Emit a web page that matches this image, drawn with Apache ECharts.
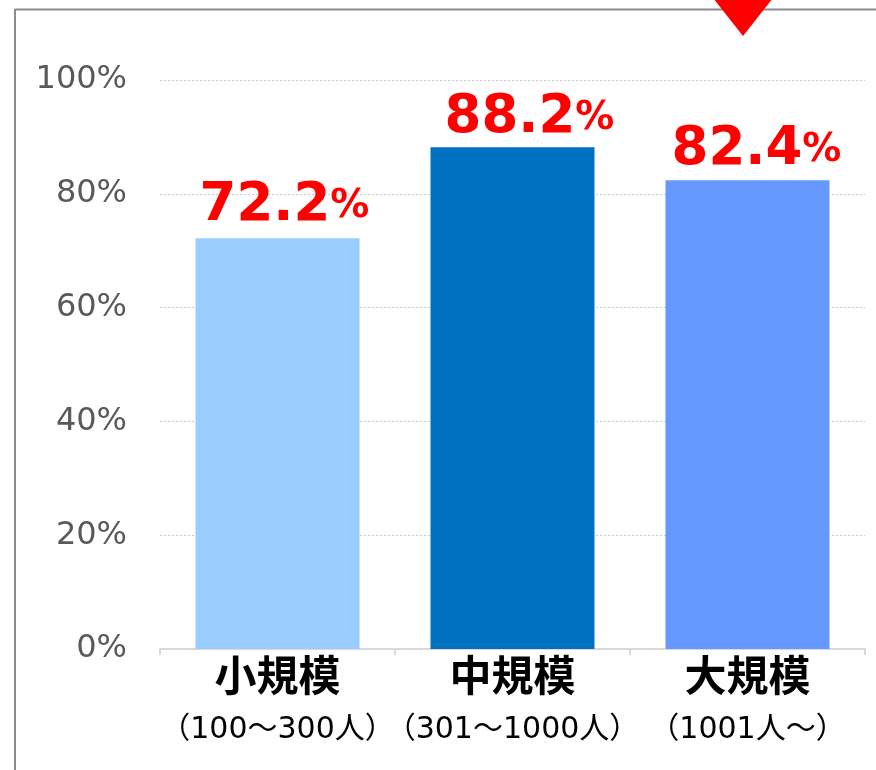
<!DOCTYPE html>
<html><head><meta charset="utf-8">
<script src="https://cdn.jsdelivr.net/npm/echarts@6/dist/echarts.min.js"></script>
<style>html,body{margin:0;padding:0;background:#fff}#c{width:876px;height:770px}</style>
</head><body><div id="c"></div>
<script>
var categories = ['小規模', '中規模', '大規模'];
var subLabels = ['（100～300人）', '（301～1000人）', '（1001人～）'];
var values = [72.2, 88.2, 82.4];
var barColors = ['#99CCFF', '#0070C0', '#6699FF'];
var labelOffsets = [[7, -3], [17, 0], [9, -1]];

var chart = echarts.init(document.getElementById('c'), null, {renderer: 'canvas'});
chart.setOption({
  animation: false,
  backgroundColor: '#fff',
  graphic: [
    {type: 'line', shape: {x1: 15, y1: 9.5, x2: 876, y2: 9.5}, style: {stroke: '#8c8c8c', lineWidth: 2}, z: 1},
    {type: 'line', shape: {x1: 15, y1: 9, x2: 15, y2: 770}, style: {stroke: '#8c8c8c', lineWidth: 2}, z: 1},
    {type: 'polygon', shape: {points: [[713, -2], [773, -2], [743, 36]]}, style: {fill: '#FF0000'}, z: 10}
  ],
  grid: {left: 160, right: 11, top: 80, bottom: 121, containLabel: false},
  xAxis: {
    type: 'category',
    data: categories,
    axisLine: {lineStyle: {color: '#d9d9d9', width: 2}},
    axisTick: {show: true, length: 6, lineStyle: {color: '#d9d9d9', width: 2}},
    axisLabel: {
      margin: 6,
      interval: 0,
      formatter: function (v, i) { return '{a|' + v + '}\n{b|' + subLabels[i] + '}'; },
      rich: {
        a: {fontFamily: 'Noto Sans CJK JP', fontWeight: 'bold', fontSize: 42, color: '#000', lineHeight: 40},
        b: {fontFamily: 'DejaVu Sans, Noto Sans CJK JP', fontSize: 30, color: '#000', lineHeight: 70}
      }
    }
  },
  yAxis: {
    type: 'value',
    min: 0, max: 100, interval: 20,
    axisLine: {show: false},
    axisTick: {show: false},
    axisLabel: {formatter: '{value}%', color: '#595959', fontSize: 32, fontFamily: 'DejaVu Sans', margin: 33},
    splitLine: {lineStyle: {color: '#c8c8c8', type: [2, 2], width: 1}}
  },
  series: [{
    type: 'bar',
    data: values.map(function (v, i) {
      return {value: v, itemStyle: {color: barColors[i]}, label: {offset: labelOffsets[i]}};
    }),
    barWidth: 164,
    label: {
      show: true,
      position: 'top',
      distance: 2,
      formatter: function (p) { return '{n|' + p.value.toFixed(1) + '}{p|%}'; },
      rich: {
        n: {fontFamily: 'DejaVu Sans', fontWeight: 'bold', fontSize: 53, color: '#FF0000'},
        p: {fontFamily: 'DejaVu Sans', fontWeight: 'bold', fontSize: 39, color: '#FF0000'}
      }
    }
  }]
});
</script></body></html>
